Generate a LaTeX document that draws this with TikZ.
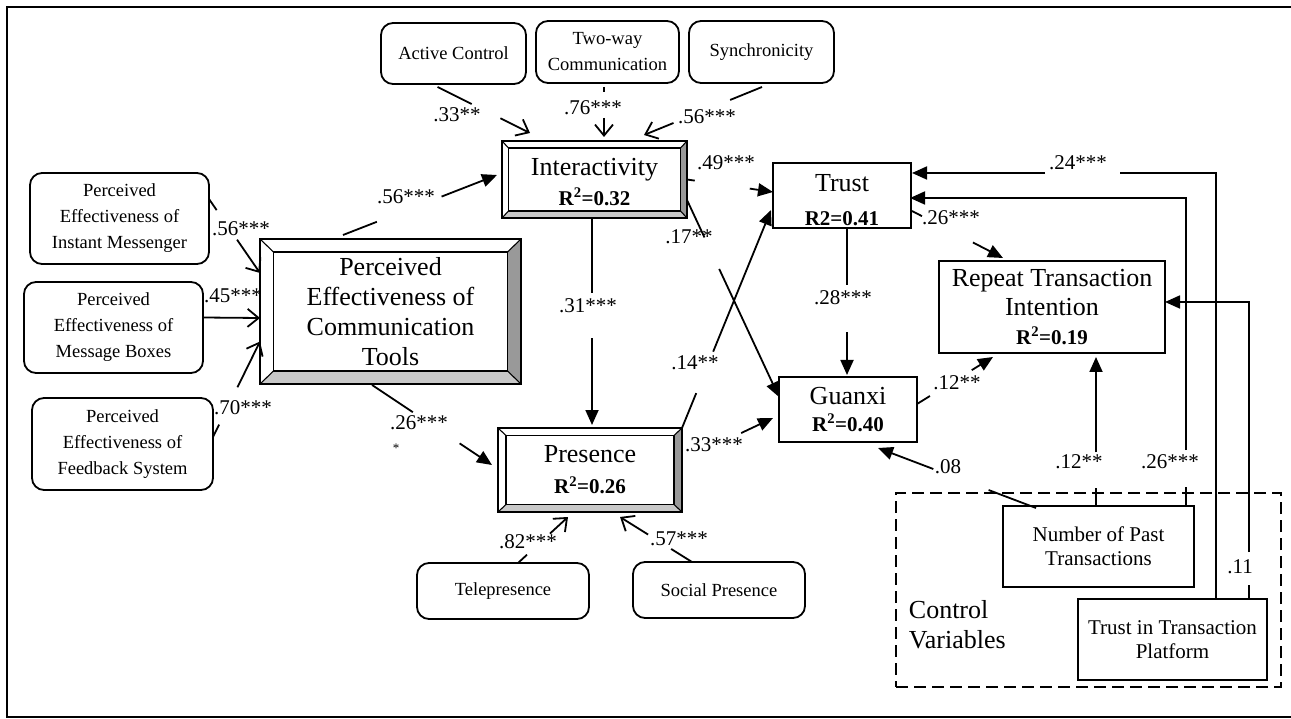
\documentclass[tikz,border=0pt]{standalone}
\usepackage{fontspec}
\setmainfont{Liberation Serif}
\usetikzlibrary{arrows.meta,calc}
\newcommand{\bigf}{\fontsize{26}{30}\selectfont}
\newcommand{\smf}{\fontsize{18.5}{26}\selectfont}
\newcommand{\lblf}{\fontsize{21}{24}\selectfont}
\newcommand{\rtwo}{\fontsize{21}{24}\selectfont\bfseries}
\definecolor{bevdark}{HTML}{999999}
\definecolor{bevlight}{HTML}{C8C8C8}
\newcommand{\gapline}[5]{\draw[#1] (#2) -- ($(#2)!#4!(#3)$) ($(#2)!#5!(#3)$) -- (#3);}
\newcommand{\bevelize}[3]{%
 \fill[bevdark] (#1.north east) -- (#1.south east) -- ($(#1.south east)+(-#2,-#3)$) -- ($(#1.north east)+(-#2,#3)$) -- cycle;
 \fill[bevlight] (#1.south west) -- (#1.south east) -- ($(#1.south east)+(-#2,-#3)$) -- ($(#1.south west)+(#2,-#3)$) -- cycle;
 \draw[line width=1.5pt] (#1.north west) rectangle (#1.south east);
 \draw[line width=1.5pt] ($(#1.north west)+(#2,#3)$) rectangle ($(#1.south east)+(-#2,-#3)$);
 \draw[line width=1.1pt] (#1.north west) -- ++(#2,#3) (#1.north east) -- ++(-#2,#3) (#1.south west) -- ++(#2,-#3) (#1.south east) -- ++(-#2,-#3);
}
\tikzset{
 box/.style={draw, inner sep=0pt, outer sep=0pt, align=center},
 sz/.style 2 args={minimum width=#1pt, minimum height=#2pt},
 rbox/.style={box, rounded corners=12pt, font=\smf},
 sqbox/.style={box, font=\bigf},
 bevbox/.style={box, font=\bigf, line width=1.5pt},
 ctlbox/.style={box, font=\lblf, align=center},
 lbl/.style={font=\lblf, inner sep=0pt},
 fa/.style={-{Triangle[length=15pt,width=13pt]}},
 oa/.style={-{Straight Barb[length=11pt,width=18pt]}},
}
\begin{document}
\begin{tikzpicture}[x=1pt,y=-1pt,line width=1.8pt]
\useasboundingbox (0,0) rectangle (1291,719);
\draw[line width=2.6pt] (1295,7) -- (7,7) -- (7,717) -- (1295,717);

% control variables region
\node[draw, dashed, dash pattern=on 12pt off 6pt, line width=2pt, sz={385}{194}, inner sep=0pt, outer sep=0pt] (ctrl) at (1088.5,590) {};
\node[font=\bigf, align=left, anchor=west, inner sep=0pt] (ctrltxt) at (908,625) {Control\\Variables};

% top indicator boxes
\node[rbox, sz={145}{61}] (ac) at (453.5,53.5) {Active Control};
\node[rbox, sz={143}{62}] (tw) at (607.5,52) {Two-way\\Communication};
\node[rbox, sz={145}{62}] (sy) at (761.5,52) {Synchronicity};

% left indicator boxes
\node[rbox, sz={179}{91}] (peim) at (119.5,218.5) {Perceived\\Effectiveness of\\Instant Messenger};
\node[rbox, sz={179}{91}] (pemb) at (113.5,327.5) {Perceived\\Effectiveness of\\Message Boxes};
\node[rbox, sz={181}{92}] (pefs) at (122.5,444) {Perceived\\Effectiveness of\\Feedback System};

% bottom indicator boxes
\node[rbox, sz={172}{56}] (tele) at (503,591) {Telepresence};
\node[rbox, sz={172}{56}] (soc) at (719,590) {Social Presence};

% beveled constructs
\node[bevbox, sz={261}{145}] (pect) at (390.5,311.5) {Perceived\\Effectiveness of\\Communication\\Tools};
\bevelize{pect}{13.5}{13}
\node[bevbox, sz={185}{77}] (inter) at (594.5,179.5) {\rule{0pt}{22pt}Interactivity\\{\rtwo R\textsuperscript{2}=0.32}};
\bevelize{inter}{6.5}{7}
\node[bevbox, sz={184}{84}] (pres) at (590,470) {Presence\\[1pt]{\rtwo R\textsuperscript{2}=0.26}};
\bevelize{pres}{8}{7.5}

% plain constructs
\node[sqbox, sz={138}{65}] (trust) at (842,195.5) {\rule{0pt}{27pt}Trust\\[4pt]{\rtwo R2=0.41}};
\node[sqbox, sz={138}{65}] (guanxi) at (848,409.5) {Guanxi\\[-3pt]{\rtwo R\textsuperscript{2}=0.40}};
\node[sqbox, sz={226}{92}] (rti) at (1052,307) {Repeat Transaction\\[-1pt]Intention\\[-1pt]{\rtwo R\textsuperscript{2}=0.19}};
\node[ctlbox, sz={191}{81}, fill=white] (npt) at (1098.5,546.5) {Number of Past\\Transactions};
\node[ctlbox, sz={189}{81}, fill=white] (ttp) at (1172.5,639.5) {Trust in Transaction\\Platform};

% connectors: formative indicators -> PECT
\coordinate (a1) at ($(peim.north east)+(0,26)$);
\coordinate (b1) at ($(pect.north west)+(0,34)$);
\gapline{oa}{a1}{b1}{0.15}{0.55}
\coordinate (a2) at ($(pemb.east)+(0,-10)$);
\coordinate (b2) at ($(pect.west)+(0,6.5)$);
\draw[oa] (a2) -- (b2);
\coordinate (a3) at ($(pefs.north east)+(0,39)$);
\coordinate (b3) at ($(pect.west)+(0,30)$);
\gapline{oa}{a3}{b3}{0.13}{0.52}

% PECT -> interactivity, presence
\coordinate (a4) at ($(pect.north west)+(83,-4)$);
\coordinate (b4) at ($(inter.west)+(-5,-4.5)$);
\gapline{fa}{a4}{b4}{0.22}{0.64}
\coordinate (a11) at ($(pect.south)+(-18.5,1)$);
\coordinate (b11) at ($(pres.west)+(-6,-5)$);
\gapline{fa}{a11}{b11}{0.34}{0.73}

% interactivity indicators
\coordinate (a5) at ($(ac.south)+(-16,3)$);
\coordinate (b5) at ($(inter.north west)+(28,-8)$);
\gapline{oa}{a5}{b5}{0.37}{0.68}
\coordinate (a6) at ($(tw.south)+(-3.5,4)$);
\coordinate (b6) at ($(inter.north)+(9.5,-4)$);
\gapline{oa}{a6}{b6}{0.1}{0.62}
\coordinate (a7) at ($(sy.south)+(0.5,4)$);
\coordinate (b7) at ($(inter.north)+(49.5,-6)$);
\gapline{oa}{a7}{b7}{0.27}{0.75}

% interactivity -> trust, guanxi, presence
\coordinate (a8) at (inter.east);
\coordinate (b8) at ($(trust.west)+(0,-3.5)$);
\gapline{fa}{a8}{b8}{0.09}{0.73}
\coordinate (a9) at ($(inter.east)+(0,20.5)$);
\coordinate (b9) at ($(guanxi.north west)+(0,20)$);
\gapline{fa}{a9}{b9}{0.19}{0.35}
\coordinate (a10) at ($(inter.south)+(-2.5,0)$);
\coordinate (b10) at ($(pres.north)+(2,-3)$);
\gapline{fa}{a10}{b10}{0.36}{0.58}

% presence -> trust, guanxi
\coordinate (a12) at (pres.north east);
\coordinate (b12) at ($(trust.south west)+(-2,-18)$);
\gapline{fa}{a12}{b12}{0.16}{0.35}
\coordinate (a13) at ($(pres.east)+(0,-9)$);
\coordinate (b13) at ($(guanxi.west)+(-6,8.5)$);
\draw[fa] ($(a13)!0.65!(b13)$) -- (b13);

% presence indicators
\coordinate (a17) at ($(tele.north)+(15,0)$);
\coordinate (b17) at ($(pres.south)+(-22,5)$);
\gapline{oa}{a17}{b17}{0.18}{0.64}
\coordinate (a18) at ($(soc.north)+(-27,0)$);
\coordinate (b18) at ($(pres.south)+(30,5)$);
\gapline{oa}{a18}{b18}{0.29}{0.61}

% trust -> guanxi, RTI ; guanxi -> RTI
\coordinate (a14) at ($(trust.south)+(5,0)$);
\coordinate (b14) at ($(guanxi.north)+(-1,-2)$);
\gapline{fa}{a14}{b14}{0.39}{0.71}
\coordinate (a15) at ($(trust.east)+(1,15.5)$);
\coordinate (b15) at ($(rti.north west)+(64,-3)$);
\gapline{fa}{a15}{b15}{0.11}{0.67}
\coordinate (a16) at ($(guanxi.east)+(0,-5.5)$);
\coordinate (b16) at ($(rti.south west)+(54,4)$);
\gapline{fa}{a16}{b16}{0.17}{0.72}

% control variables
\coordinate (a19) at ($(npt.north west)+(33,2)$);
\coordinate (b19) at ($(guanxi.south west)+(99,6)$);
\gapline{fa}{a19}{b19}{0.30}{0.65}
\coordinate (a20) at ($(npt.north)+(-2.5,0)$);
\coordinate (b20) at ($(rti.south)+(44,4)$);
\gapline{fa}{a20}{b20}{0.12}{0.36}
\coordinate (a21) at ($(npt.north east)+(-8,0)$);
\coordinate (b21) at ($(trust.east)+(-1,2.5)$);
\draw[fa] (a21) -- ++(0,-19) ++(0,-37) |- (b21);
\coordinate (a22) at ($(ttp.north)+(43.5,0)$);
\coordinate (b22) at ($(trust.east)+(1,-22.5)$);
\draw[fa] (a22) -- (a22 |- b22) -- ++(-96,0) ++(-75,0) -- (b22);
\coordinate (a23) at ($(ttp.north)+(76.5,0)$);
\coordinate (b23) at ($(rti.east)+(0,-5)$);
\draw[fa] (a23) -- ++(0,-14) ++(0,-33) |- (b23);

% coefficient labels
\node[lbl] (l1) at (241,229) {.56***};
\node[lbl] (l2) at (233,296) {.45***};
\node[lbl] (l3) at (243,408) {.70***};
\node[lbl] (l4) at (406,197) {.56***};
\node[lbl] (l5) at (457,115) {.33**};
\node[lbl] (l6) at (593,108) {.76***};
\node[lbl] (l7) at (707,117) {.56***};
\node[lbl] (l8) at (726,163) {.49***};
\node[lbl] (l9) at (689,237) {.17**};
\node[lbl] (l10) at (588,306) {.31***};
\node[lbl] (l11) at (419,423) {.26***};
\node[font=\fontsize{13}{13}\selectfont, inner sep=0pt] (l11b) at (396,448) {*};
\node[lbl] (l12) at (695,363) {.14**};
\node[lbl] (l13) at (714,445) {.33***};
\node[lbl] (l14) at (843,298) {.28***};
\node[lbl] (l15) at (951,218) {.26***};
\node[lbl] (l16) at (957,383) {.12**};
\node[lbl] (l17) at (528,542) {.82***};
\node[lbl] (l18) at (679,539) {.57***};
\node[lbl] (l19) at (948,467) {.08};
\node[lbl] (l20) at (1079,462) {.12**};
\node[lbl] (l21) at (1170,462) {.26***};
\node[lbl] (l22) at (1078,163) {.24***};
\node[lbl] (l23) at (1240,567) {.11};
\end{tikzpicture}
\end{document}
